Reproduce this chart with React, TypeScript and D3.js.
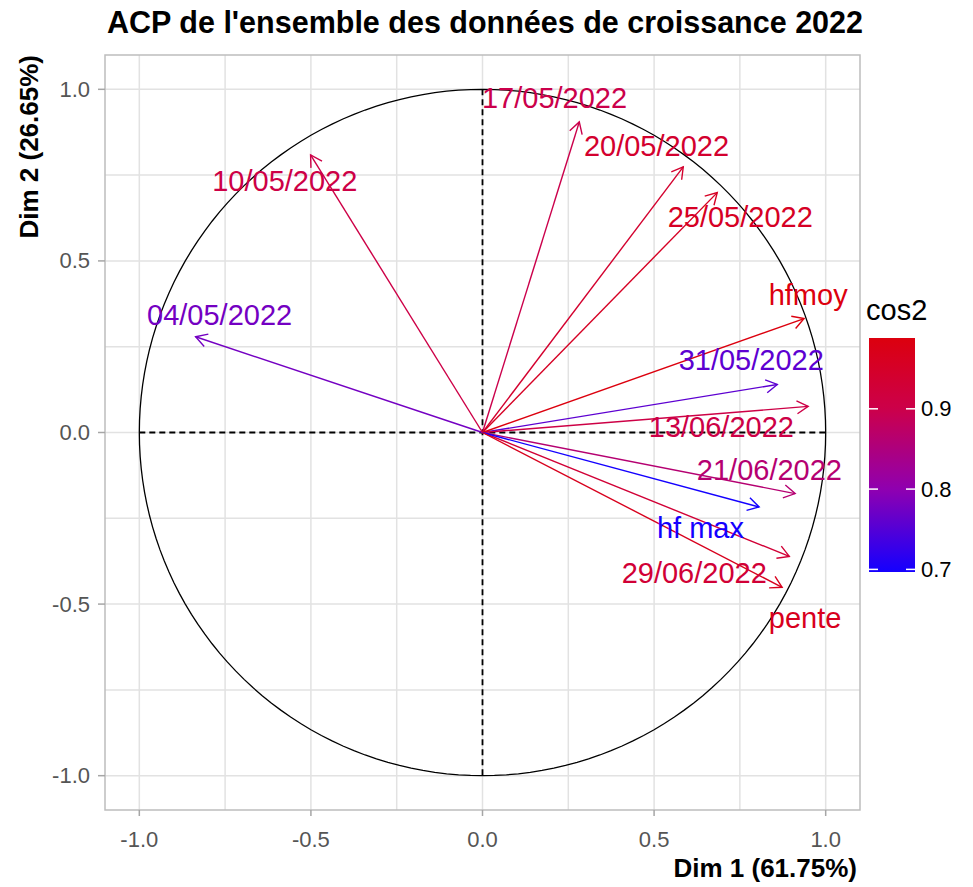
import React from "react";
import * as d3 from "d3";

// PCA variables (coordinates on Dim 1 / Dim 2)
const VARIABLES = [
  "04/05/2022",
  "10/05/2022",
  "17/05/2022",
  "20/05/2022",
  "25/05/2022",
  "31/05/2022",
  "13/06/2022",
  "21/06/2022",
  "29/06/2022",
  "hfmoy",
  "hf max",
  "pente",
];
const DIM1 = [-0.836, -0.501, 0.282, 0.585, 0.684, 0.859, 0.949, 0.911, 0.894, 0.937, 0.806, 0.873];
const DIM2 = [0.279, 0.809, 0.905, 0.774, 0.699, 0.14, 0.076, -0.178, -0.361, 0.332, -0.217, -0.451];
// repelled label positions (same units)
const LABEL_DIM1 = [-0.766, -0.576, 0.21, 0.507, 0.751, 0.783, 0.696, 0.836, 0.617, 0.949, 0.635, 0.94];
const LABEL_DIM2 = [0.341, 0.734, 0.975, 0.836, 0.629, 0.21, 0.015, -0.108, -0.408, 0.402, -0.277, -0.541];

const AXIS_TICKS = [-1, -0.5, 0, 0.5, 1];
const MINOR_TICKS = [-0.75, -0.25, 0.25, 0.75];
const LEGEND_TICKS = [0.7, 0.8, 0.9];

const W = 973;
const H = 887;
const margin = { top: 55, right: 113, bottom: 77, left: 105 };

const FONT = "'Liberation Sans', Arial, sans-serif";

// ggplot style labels: plain hyphen, one decimal
const fmt = (t: number) => t.toFixed(1);

export default function App() {
  const x = d3
    .scaleLinear()
    .domain([-1.1, 1.1])
    .range([margin.left, W - margin.right]);
  const y = d3
    .scaleLinear()
    .domain([-1.1, 1.1])
    .range([H - margin.bottom, margin.top]);

  const data = VARIABLES.map((name, i) => ({
    name,
    x: DIM1[i],
    y: DIM2[i],
    lx: LABEL_DIM1[i],
    ly: LABEL_DIM2[i],
    cos2: DIM1[i] * DIM1[i] + DIM2[i] * DIM2[i],
  }));
  const [cmin, cmax] = d3.extent(data, (d) => d.cos2) as [number, number];

  const color = d3
    .scaleLinear<string>()
    .domain([cmin, 0.8, 0.9, cmax])
    .range(["#1400ff", "#9000b0", "#cc004a", "#dc000e"])
    .clamp(true);

  // legend bar
  const barX = 869;
  const barW = 46;
  const ly = d3.scaleLinear().domain([cmin, cmax]).range([572, 338]);
  const stops = d3.range(0, 1.0001, 0.05);

  // correlation circle
  const circle = d3.line<number>()(
    d3.range(0, 361, 2).map((a) => {
      const r = (a * Math.PI) / 180;
      return [x(Math.cos(r)), y(Math.sin(r))];
    }),
  );

  const head = 13;
  const ang = Math.PI / 6;

  const px0 = x(-1.1);
  const px1 = x(1.1);
  const py0 = y(1.1);
  const py1 = y(-1.1);

  return (
    <svg
      width={W}
      height={H}
      style={{ position: "absolute", left: 0, top: 0, background: "#fff" }}
      fontFamily={FONT}
    >
      {/* grid */}
      {MINOR_TICKS.concat(AXIS_TICKS).map((t) => (
        <g key={"g" + t}>
          <line x1={x(t)} x2={x(t)} y1={py0} y2={py1} stroke="#e2e2e2" strokeWidth={1.5} />
          <line x1={px0} x2={px1} y1={y(t)} y2={y(t)} stroke="#e2e2e2" strokeWidth={1.5} />
        </g>
      ))}
      <rect
        x={px0}
        y={py0}
        width={px1 - px0}
        height={py1 - py0}
        fill="none"
        stroke="#bdbdbd"
        strokeWidth={1.5}
      />

      {/* axes ticks + labels */}
      {AXIS_TICKS.map((t) => (
        <g key={"t" + t}>
          <line x1={x(t)} x2={x(t)} y1={py1} y2={py1 + 6} stroke="#a6a6a6" strokeWidth={1.5} />
          <text x={x(t)} y={847} textAnchor="middle" fontSize={22} fill="#555">
            {fmt(t)}
          </text>
          <line x1={px0 - 7} x2={px0} y1={y(t)} y2={y(t)} stroke="#a6a6a6" strokeWidth={1.5} />
          <text
            x={90}
            y={y(t)}
            textAnchor="end"
            dominantBaseline="central"
            fontSize={22}
            fill="#555"
          >
            {fmt(t)}
          </text>
        </g>
      ))}

      {/* reference lines */}
      <line x1={x(-1)} x2={x(1)} y1={y(0)} y2={y(0)} stroke="#000" strokeWidth={1.8} strokeDasharray="6,4" />
      <line x1={x(0)} x2={x(0)} y1={y(1)} y2={y(-1)} stroke="#000" strokeWidth={1.8} strokeDasharray="6,4" />
      <path d={circle!} fill="none" stroke="#000" strokeWidth={1.3} />

      {/* arrows */}
      {data.map((d) => {
        const x1 = x(d.x);
        const y1 = y(d.y);
        const a = Math.atan2(y1 - y(0), x1 - x(0));
        const h1 = [x1 - head * Math.cos(a - ang), y1 - head * Math.sin(a - ang)];
        const h2 = [x1 - head * Math.cos(a + ang), y1 - head * Math.sin(a + ang)];
        const c = color(d.cos2);
        return (
          <g key={"a" + d.name} stroke={c} strokeWidth={1.4} fill="none">
            <line x1={x(0)} y1={y(0)} x2={x1} y2={y1} />
            <polyline points={`${h1[0]},${h1[1]} ${x1},${y1} ${h2[0]},${h2[1]}`} />
          </g>
        );
      })}
      {data.map((d) => (
        <text
          key={"l" + d.name}
          x={x(d.lx)}
          y={y(d.ly)}
          textAnchor="middle"
          dominantBaseline="central"
          fontSize={29}
          fill={color(d.cos2)}
        >
          {d.name}
        </text>
      ))}

      {/* title */}
      <text x={107} y={33} fontSize={30.5} fontWeight="bold" fill="#000">
        ACP de l'ensemble des données de croissance 2022
      </text>
      <text x={857} y={877} textAnchor="end" fontSize={26} fontWeight="bold" fill="#000">
        Dim 1 (61.75%)
      </text>
      <text
        transform={`translate(38,${py0}) rotate(-90)`}
        textAnchor="end"
        fontSize={26}
        fontWeight="bold"
        fill="#000"
      >
        Dim 2 (26.65%)
      </text>

      {/* legend */}
      <text x={866} y={320} fontSize={29} fill="#000">
        cos2
      </text>
      <defs>
        <linearGradient id="cosgrad" x1="0" y1="1" x2="0" y2="0">
          {stops.map((s) => (
            <stop key={s} offset={s} stopColor={color(cmin + s * (cmax - cmin))} />
          ))}
        </linearGradient>
      </defs>
      <rect x={barX} y={ly(cmax)} width={barW} height={ly(cmin) - ly(cmax)} fill="url(#cosgrad)" />
      {LEGEND_TICKS.map((t) => (
        <g key={"lg" + t}>
          <line x1={barX} x2={barX + 9} y1={ly(t)} y2={ly(t)} stroke="#fff" strokeWidth={1.5} />
          <line x1={barX + barW - 9} x2={barX + barW} y1={ly(t)} y2={ly(t)} stroke="#fff" strokeWidth={1.5} />
          <text x={921} y={ly(t)} dominantBaseline="central" fontSize={22} fill="#000">
            {t.toFixed(1)}
          </text>
        </g>
      ))}
    </svg>
  );
}
